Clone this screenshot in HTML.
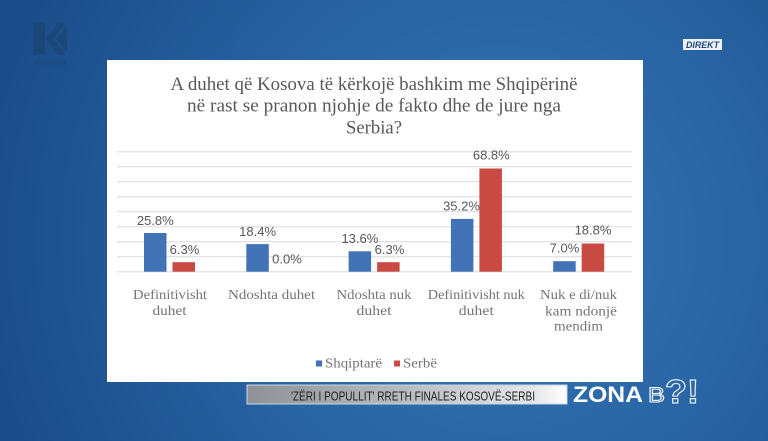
<!DOCTYPE html>
<html>
<head>
<meta charset="utf-8">
<style>
html,body{margin:0;padding:0;width:768px;height:441px;overflow:hidden;background:#245e9e;}
svg{display:block;}
</style>
</head>
<body>
<svg width="768" height="441" viewBox="0 0 768 441" xmlns="http://www.w3.org/2000/svg">
  <defs>
    <radialGradient id="bg" cx="500" cy="240" r="520" gradientUnits="userSpaceOnUse">
      <stop offset="0" stop-color="#3676b7"/>
      <stop offset="0.45" stop-color="#2a66a6"/>
      <stop offset="1" stop-color="#1a4c89"/>
    </radialGradient>
    <linearGradient id="tick" x1="0" y1="0" x2="1" y2="0">
      <stop offset="0" stop-color="#8e9296"/>
      <stop offset="0.5" stop-color="#b9bcbf"/>
      <stop offset="0.9" stop-color="#e6e7e8"/>
      <stop offset="1" stop-color="#ffffff"/>
    </linearGradient>
  </defs>

  <!-- background -->
  <rect x="0" y="0" width="768" height="441" fill="url(#bg)"/>

  <!-- logo -->
  <g fill="#1c4777" opacity="0.9">
    <rect x="34" y="23" width="11" height="32"/>
    <polygon points="46,39 58,23 66,23 53,39 66,55 58,55"/>
    <polygon points="67,26 67,52 56,39"/>
  </g>
  <text x="50" y="64.5" text-anchor="middle" font-family="Liberation Sans, sans-serif" font-weight="bold" font-size="7.5" fill="#1c4777" textLength="32" lengthAdjust="spacingAndGlyphs">Kosova</text>

  <!-- DIREKT badge -->
  <rect x="683" y="39" width="39" height="11" fill="#eef2f6"/>
  <text x="702.5" y="48" text-anchor="middle" font-family="Liberation Sans, sans-serif" font-weight="bold" font-style="italic" font-size="9.5" fill="#1d4a80" textLength="33" lengthAdjust="spacingAndGlyphs">DIREKT</text>

  <!-- white panel -->
  <rect x="107" y="60" width="536" height="322" fill="#ffffff"/>

  <!-- title -->
  <g font-family="Liberation Serif, serif" font-size="19" fill="#585858" text-anchor="middle">
    <text x="374" y="90" textLength="407" lengthAdjust="spacingAndGlyphs">A duhet që Kosova të kërkojë bashkim me Shqipërinë</text>
    <text x="374" y="111.5" textLength="374" lengthAdjust="spacingAndGlyphs">në rast se pranon njohje de fakto dhe de jure nga</text>
    <text x="374" y="133.5" textLength="56" lengthAdjust="spacingAndGlyphs">Serbia?</text>
  </g>

  <!-- gridlines -->
  <g stroke="#dadada" stroke-width="1">
    <line x1="117" y1="151.7" x2="632" y2="151.7"/>
    <line x1="117" y1="166.7" x2="632" y2="166.7"/>
    <line x1="117" y1="181.7" x2="632" y2="181.7"/>
    <line x1="117" y1="196.7" x2="632" y2="196.7"/>
    <line x1="117" y1="211.7" x2="632" y2="211.7"/>
    <line x1="117" y1="226.7" x2="632" y2="226.7"/>
    <line x1="117" y1="241.7" x2="632" y2="241.7"/>
    <line x1="117" y1="256.7" x2="632" y2="256.7"/>
    <line x1="117" y1="271.7" x2="632" y2="271.7"/>
  </g>

  <!-- bars -->
  <g fill="#4173b6">
    <rect x="144" y="233.0" width="22.5" height="38.7"/>
    <rect x="246.3" y="244.1" width="22.5" height="27.6"/>
    <rect x="348.6" y="251.3" width="22.5" height="20.4"/>
    <rect x="450.9" y="218.9" width="22.5" height="52.8"/>
    <rect x="553.2" y="261.2" width="22.5" height="10.5"/>
  </g>
  <g fill="#c94943">
    <rect x="172.5" y="262.2" width="22.5" height="9.5"/>
    <rect x="377.1" y="262.2" width="22.5" height="9.5"/>
    <rect x="479.4" y="168.5" width="22.5" height="103.2"/>
    <rect x="581.7" y="243.5" width="22.5" height="28.2"/>
  </g>

  <!-- value labels -->
  <g font-family="Liberation Sans, sans-serif" font-size="13" fill="#575757" text-anchor="middle">
    <text x="155.3" y="225">25.8%</text>
    <text x="184.5" y="254">6.3%</text>
    <text x="257.6" y="235.8">18.4%</text>
    <text x="287" y="263.3">0.0%</text>
    <text x="359.9" y="243">13.6%</text>
    <text x="389.5" y="254">6.3%</text>
    <text x="461.5" y="210.3">35.2%</text>
    <text x="491.3" y="159.5">68.8%</text>
    <text x="564.5" y="252.5">7.0%</text>
    <text x="593" y="234.5">18.8%</text>
  </g>

  <!-- category labels -->
  <g font-family="Liberation Serif, serif" font-size="14" fill="#747474" text-anchor="middle">
    <text x="170" y="299" textLength="74" lengthAdjust="spacingAndGlyphs">Definitivisht</text>
    <text x="169.5" y="315" textLength="34" lengthAdjust="spacingAndGlyphs">duhet</text>
    <text x="271.5" y="299" textLength="87" lengthAdjust="spacingAndGlyphs">Ndoshta duhet</text>
    <text x="374" y="299" textLength="75" lengthAdjust="spacingAndGlyphs">Ndoshta nuk</text>
    <text x="374" y="315" textLength="35" lengthAdjust="spacingAndGlyphs">duhet</text>
    <text x="476.3" y="299" textLength="97" lengthAdjust="spacingAndGlyphs">Definitivisht nuk</text>
    <text x="476.3" y="315" textLength="35" lengthAdjust="spacingAndGlyphs">duhet</text>
    <text x="578.5" y="299" textLength="77" lengthAdjust="spacingAndGlyphs">Nuk e di/nuk</text>
    <text x="581" y="315.5" textLength="72" lengthAdjust="spacingAndGlyphs">kam ndonjë</text>
    <text x="578.5" y="330.5" textLength="49" lengthAdjust="spacingAndGlyphs">mendim</text>
  </g>

  <!-- legend -->
  <rect x="316" y="360.5" width="6" height="6" fill="#4173b6"/>
  <text x="325" y="367.5" font-family="Liberation Serif, serif" font-size="13.5" fill="#747474" textLength="57" lengthAdjust="spacingAndGlyphs">Shqiptarë</text>
  <rect x="394" y="360.5" width="6" height="6" fill="#c94943"/>
  <text x="403" y="367.5" font-family="Liberation Serif, serif" font-size="13.5" fill="#747474" textLength="34" lengthAdjust="spacingAndGlyphs">Serbë</text>

  <!-- ticker -->
  <rect x="247" y="385" width="320" height="19" fill="url(#tick)" stroke="#c9d6e4" stroke-width="1"/>
  <text x="413" y="400.5" text-anchor="middle" font-family="Liberation Sans Narrow, Liberation Sans, sans-serif" font-size="13" fill="#222222" textLength="244" lengthAdjust="spacingAndGlyphs">'ZËRI I POPULLIT' RRETH FINALES KOSOVË-SERBI</text>

  <!-- ZONA B?! -->
  <text x="573" y="402" font-family="Liberation Sans, sans-serif" font-weight="bold" font-size="22" fill="#ffffff" textLength="70" lengthAdjust="spacingAndGlyphs">ZONA</text>
  <text x="648" y="402" font-family="Liberation Sans, sans-serif" font-size="21" fill="none" stroke="#ffffff" stroke-width="1" textLength="17" lengthAdjust="spacingAndGlyphs">B</text>
  <text x="665" y="403" font-family="Liberation Sans, sans-serif" font-weight="bold" font-size="33" fill="none" stroke="#dfe8f2" stroke-width="1.2" textLength="34" lengthAdjust="spacingAndGlyphs">?!</text>
</svg>
</body>
</html>
